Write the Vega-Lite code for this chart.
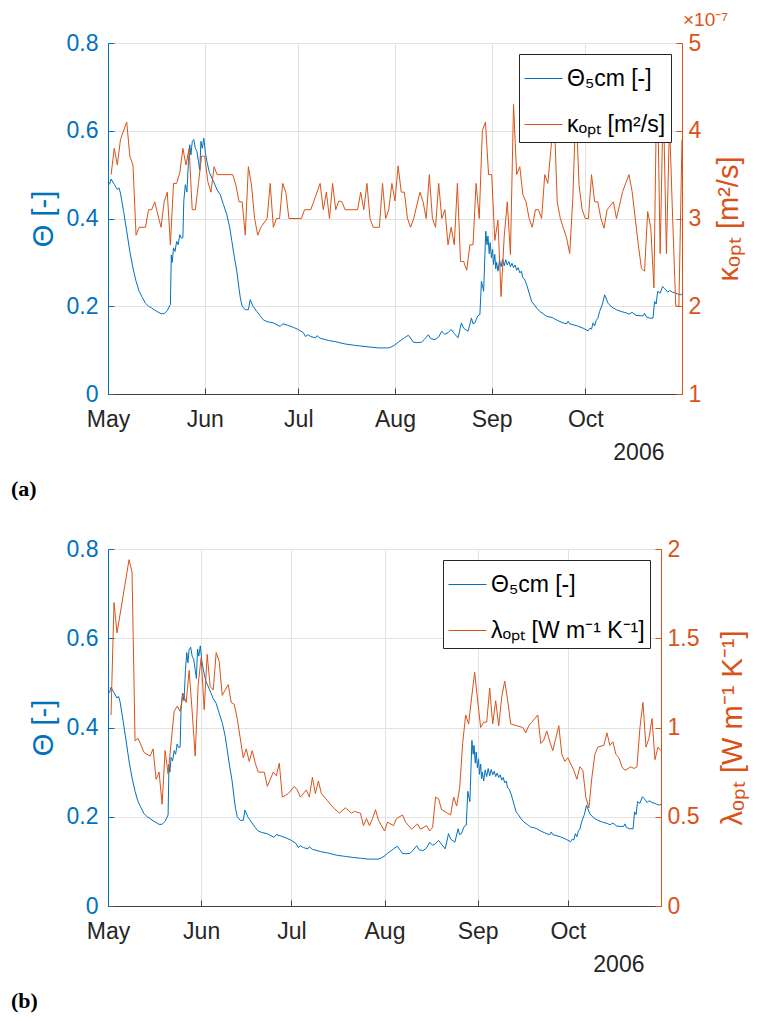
{
  "$schema": "https://vega.github.io/schema/vega-lite/v6.json",
  "padding": {"left": 10, "top": 10, "right": 5, "bottom": 2},
  "spacing": 36,
  "config": {
    "font": "Liberation Sans",
    "view": {"stroke": "#404040", "strokeWidth": 1},
    "axis": {
      "labelFont": "Liberation Sans", "titleFont": "Liberation Sans",
      "labelFontSize": 23, "titleFontSize": 29, "titleFontWeight": "normal",
      "gridColor": "#e2e2e2", "gridWidth": 1, "tickSize": -6, "domainWidth": 1, "labelPadding": 12, "labelFlush": false
    },
    "legend": {
      "orient": "top-right", "offset": 11, "title": null, "symbolType": "stroke", "symbolSize": 1444,
      "symbolStrokeWidth": 1, "labelFont": "Liberation Sans", "labelFontSize": 23, "labelColor": "#000000",
      "strokeColor": "#262626", "fillColor": "#ffffff", "padding": 5, "rowPadding": 14, "labelOffset": 4, "labelLimit": 400
    }
  },
  "datasets": {
    "theta": [
      {"t":"2006/05/01","theta":0.482},{"t":"2006/05/01 12:00","theta":0.478},{"t":"2006/05/02","theta":0.490},{"t":"2006/05/03","theta":0.478},{"t":"2006/05/04","theta":0.466},{"t":"2006/05/04 12:00","theta":0.470},{"t":"2006/05/05","theta":0.458},{"t":"2006/05/06","theta":0.416},{"t":"2006/05/07","theta":0.371},{"t":"2006/05/08","theta":0.325},{"t":"2006/05/09","theta":0.287},{"t":"2006/05/10","theta":0.257},{"t":"2006/05/11","theta":0.234},{"t":"2006/05/12","theta":0.220},{"t":"2006/05/13","theta":0.207},{"t":"2006/05/14","theta":0.200},{"t":"2006/05/15","theta":0.196},{"t":"2006/05/16","theta":0.191},{"t":"2006/05/17","theta":0.187},{"t":"2006/05/18","theta":0.183},{"t":"2006/05/19","theta":0.183},{"t":"2006/05/20","theta":0.190},{"t":"2006/05/21","theta":0.204},{"t":"2006/05/21 07:00","theta":0.317},{"t":"2006/05/21 14:00","theta":0.300},{"t":"2006/05/22","theta":0.333},{"t":"2006/05/22 12:00","theta":0.325},{"t":"2006/05/23","theta":0.348},{"t":"2006/05/23 12:00","theta":0.340},{"t":"2006/05/24","theta":0.363},{"t":"2006/05/24 12:00","theta":0.355},{"t":"2006/05/25","theta":0.356},{"t":"2006/05/25 07:00","theta":0.439},{"t":"2006/05/25 19:00","theta":0.477},{"t":"2006/05/26 07:00","theta":0.460},{"t":"2006/05/26 19:00","theta":0.530},{"t":"2006/05/27 05:00","theta":0.568},{"t":"2006/05/27 14:00","theta":0.545},{"t":"2006/05/28","theta":0.575},{"t":"2006/05/28 12:00","theta":0.580},{"t":"2006/05/29","theta":0.560},{"t":"2006/05/29 12:00","theta":0.553},{"t":"2006/05/30","theta":0.530},{"t":"2006/05/30 10:00","theta":0.510},{"t":"2006/05/30 19:00","theta":0.576},{"t":"2006/05/31 05:00","theta":0.560},{"t":"2006/05/31 17:00","theta":0.583},{"t":"2006/06/01 05:00","theta":0.550},{"t":"2006/06/01 17:00","theta":0.530},{"t":"2006/06/02 12:00","theta":0.505},{"t":"2006/06/03 19:00","theta":0.485},{"t":"2006/06/05","theta":0.465},{"t":"2006/06/06","theta":0.454},{"t":"2006/06/07","theta":0.432},{"t":"2006/06/08 02:00","theta":0.409},{"t":"2006/06/09","theta":0.380},{"t":"2006/06/09 17:00","theta":0.348},{"t":"2006/06/10 12:00","theta":0.312},{"t":"2006/06/11 07:00","theta":0.280},{"t":"2006/06/12","theta":0.240},{"t":"2006/06/12 10:00","theta":0.219},{"t":"2006/06/13","theta":0.200},{"t":"2006/06/14","theta":0.192},{"t":"2006/06/15","theta":0.192},{"t":"2006/06/15 14:00","theta":0.215},{"t":"2006/06/16 12:00","theta":0.200},{"t":"2006/06/17 17:00","theta":0.188},{"t":"2006/06/19","theta":0.176},{"t":"2006/06/19 19:00","theta":0.169},{"t":"2006/06/21","theta":0.165},{"t":"2006/06/23","theta":0.162},{"t":"2006/06/25 05:00","theta":0.154},{"t":"2006/06/26","theta":0.160},{"t":"2006/06/27 12:00","theta":0.157},{"t":"2006/06/29 10:00","theta":0.152},{"t":"2006/07/01","theta":0.147},{"t":"2006/07/02 14:00","theta":0.140},{"t":"2006/07/03 07:00","theta":0.131},{"t":"2006/07/04","theta":0.135},{"t":"2006/07/05","theta":0.131},{"t":"2006/07/06 12:00","theta":0.128},{"t":"2006/07/07","theta":0.133},{"t":"2006/07/08","theta":0.127},{"t":"2006/07/10 17:00","theta":0.122},{"t":"2006/07/13","theta":0.119},{"t":"2006/07/16","theta":0.114},{"t":"2006/07/19","theta":0.111},{"t":"2006/07/21 10:00","theta":0.109},{"t":"2006/07/24","theta":0.107},{"t":"2006/07/26 17:00","theta":0.105},{"t":"2006/07/29 22:00","theta":0.105},{"t":"2006/07/31","theta":0.108},{"t":"2006/08/01","theta":0.112},{"t":"2006/08/02","theta":0.118},{"t":"2006/08/03 05:00","theta":0.124},{"t":"2006/08/04","theta":0.128},{"t":"2006/08/05 07:00","theta":0.134},{"t":"2006/08/06 22:00","theta":0.118},{"t":"2006/08/08","theta":0.117},{"t":"2006/08/09 12:00","theta":0.118},{"t":"2006/08/10 12:00","theta":0.125},{"t":"2006/08/11 17:00","theta":0.135},{"t":"2006/08/12 12:00","theta":0.126},{"t":"2006/08/13 19:00","theta":0.124},{"t":"2006/08/15","theta":0.130},{"t":"2006/08/16","theta":0.143},{"t":"2006/08/17","theta":0.136},{"t":"2006/08/18","theta":0.140},{"t":"2006/08/19","theta":0.147},{"t":"2006/08/20","theta":0.138},{"t":"2006/08/21 05:00","theta":0.128},{"t":"2006/08/22 07:00","theta":0.162},{"t":"2006/08/23","theta":0.150},{"t":"2006/08/24 10:00","theta":0.143},{"t":"2006/08/25 12:00","theta":0.173},{"t":"2006/08/26","theta":0.160},{"t":"2006/08/26 14:00","theta":0.162},{"t":"2006/08/27 12:00","theta":0.178},{"t":"2006/08/28 05:00","theta":0.181},{"t":"2006/08/28 17:00","theta":0.257},{"t":"2006/08/29 10:00","theta":0.234},{"t":"2006/08/30 02:00","theta":0.371},{"t":"2006/08/30 12:00","theta":0.340},{"t":"2006/08/30 19:00","theta":0.360},{"t":"2006/08/31 05:00","theta":0.320},{"t":"2006/08/31 12:00","theta":0.345},{"t":"2006/08/31 22:00","theta":0.310},{"t":"2006/09/01 07:00","theta":0.330},{"t":"2006/09/01 14:00","theta":0.295},{"t":"2006/09/02","theta":0.318},{"t":"2006/09/02 07:00","theta":0.285},{"t":"2006/09/02 14:00","theta":0.300},{"t":"2006/09/03","theta":0.280},{"t":"2006/09/03 12:00","theta":0.305},{"t":"2006/09/04","theta":0.290},{"t":"2006/09/04 12:00","theta":0.308},{"t":"2006/09/05","theta":0.292},{"t":"2006/09/05 12:00","theta":0.306},{"t":"2006/09/06","theta":0.294},{"t":"2006/09/06 12:00","theta":0.302},{"t":"2006/09/07","theta":0.290},{"t":"2006/09/07 12:00","theta":0.298},{"t":"2006/09/08","theta":0.288},{"t":"2006/09/08 12:00","theta":0.294},{"t":"2006/09/09","theta":0.282},{"t":"2006/09/09 12:00","theta":0.288},{"t":"2006/09/10","theta":0.276},{"t":"2006/09/10 12:00","theta":0.280},{"t":"2006/09/11","theta":0.265},{"t":"2006/09/11 12:00","theta":0.262},{"t":"2006/09/12 05:00","theta":0.249},{"t":"2006/09/13","theta":0.230},{"t":"2006/09/13 19:00","theta":0.211},{"t":"2006/09/14 12:00","theta":0.205},{"t":"2006/09/15 12:00","theta":0.195},{"t":"2006/09/16 10:00","theta":0.188},{"t":"2006/09/17 12:00","theta":0.183},{"t":"2006/09/18 14:00","theta":0.177},{"t":"2006/09/20","theta":0.175},{"t":"2006/09/20 17:00","theta":0.173},{"t":"2006/09/22","theta":0.168},{"t":"2006/09/23 22:00","theta":0.162},{"t":"2006/09/25","theta":0.160},{"t":"2006/09/25 12:00","theta":0.166},{"t":"2006/09/26","theta":0.160},{"t":"2006/09/27 02:00","theta":0.158},{"t":"2006/09/28 12:00","theta":0.155},{"t":"2006/09/30 07:00","theta":0.150},{"t":"2006/10/01 22:00","theta":0.144},{"t":"2006/10/02 12:00","theta":0.150},{"t":"2006/10/03","theta":0.148},{"t":"2006/10/03 12:00","theta":0.162},{"t":"2006/10/04","theta":0.155},{"t":"2006/10/04 12:00","theta":0.168},{"t":"2006/10/05","theta":0.172},{"t":"2006/10/05 14:00","theta":0.188},{"t":"2006/10/06 12:00","theta":0.205},{"t":"2006/10/07 05:00","theta":0.226},{"t":"2006/10/08 07:00","theta":0.207},{"t":"2006/10/09 12:00","theta":0.198},{"t":"2006/10/11","theta":0.192},{"t":"2006/10/12 12:00","theta":0.188},{"t":"2006/10/14 02:00","theta":0.185},{"t":"2006/10/15","theta":0.182},{"t":"2006/10/16","theta":0.186},{"t":"2006/10/17 07:00","theta":0.179},{"t":"2006/10/19 12:00","theta":0.178},{"t":"2006/10/20","theta":0.184},{"t":"2006/10/20 12:00","theta":0.176},{"t":"2006/10/21 14:00","theta":0.173},{"t":"2006/10/22 17:00","theta":0.173},{"t":"2006/10/23 05:00","theta":0.211},{"t":"2006/10/23 17:00","theta":0.205},{"t":"2006/10/24 05:00","theta":0.234},{"t":"2006/10/25","theta":0.230},{"t":"2006/10/25 19:00","theta":0.245},{"t":"2006/10/26 12:00","theta":0.240},{"t":"2006/10/27 10:00","theta":0.232},{"t":"2006/10/28","theta":0.236},{"t":"2006/10/29","theta":0.232},{"t":"2006/10/30","theta":0.230},{"t":"2006/10/30 14:00","theta":0.228},{"t":"2006/10/31 12:00","theta":0.226},{"t":"2006/11/01","theta":0.228}
    ],
    "kappa": [
      {"t":"2006/05/02","kappa":3.50},{"t":"2006/05/03","kappa":3.80},{"t":"2006/05/04","kappa":3.61},{"t":"2006/05/05","kappa":3.90},{"t":"2006/05/07","kappa":4.10},{"t":"2006/05/08","kappa":3.71},{"t":"2006/05/09","kappa":3.61},{"t":"2006/05/10","kappa":2.81},{"t":"2006/05/11","kappa":2.90},{"t":"2006/05/13","kappa":2.90},{"t":"2006/05/14","kappa":3.10},{"t":"2006/05/15","kappa":3.10},{"t":"2006/05/16","kappa":3.19},{"t":"2006/05/17","kappa":3.04},{"t":"2006/05/18","kappa":2.90},{"t":"2006/05/19","kappa":3.19},{"t":"2006/05/20","kappa":3.30},{"t":"2006/05/21","kappa":2.70},{"t":"2006/05/22","kappa":3.40},{"t":"2006/05/23","kappa":3.40},{"t":"2006/05/24","kappa":3.52},{"t":"2006/05/25","kappa":3.80},{"t":"2006/05/26","kappa":3.61},{"t":"2006/05/27","kappa":3.80},{"t":"2006/05/28","kappa":3.10},{"t":"2006/05/29","kappa":3.10},{"t":"2006/05/30","kappa":3.40},{"t":"2006/05/31","kappa":3.71},{"t":"2006/06/01","kappa":3.71},{"t":"2006/06/02","kappa":3.42},{"t":"2006/06/03","kappa":3.30},{"t":"2006/06/04","kappa":3.59},{"t":"2006/06/05","kappa":3.50},{"t":"2006/06/10","kappa":3.50},{"t":"2006/06/11","kappa":3.38},{"t":"2006/06/12","kappa":3.19},{"t":"2006/06/13","kappa":3.19},{"t":"2006/06/14","kappa":2.81},{"t":"2006/06/15","kappa":3.59},{"t":"2006/06/16","kappa":3.38},{"t":"2006/06/17","kappa":3.00},{"t":"2006/06/18","kappa":2.81},{"t":"2006/06/19","kappa":2.90},{"t":"2006/06/21","kappa":3.00},{"t":"2006/06/22","kappa":3.40},{"t":"2006/06/23","kappa":2.90},{"t":"2006/06/24","kappa":3.00},{"t":"2006/06/25","kappa":3.00},{"t":"2006/06/26","kappa":3.40},{"t":"2006/06/27","kappa":3.30},{"t":"2006/06/28","kappa":3.00},{"t":"2006/07/02","kappa":3.00},{"t":"2006/07/03","kappa":3.10},{"t":"2006/07/05","kappa":3.10},{"t":"2006/07/08","kappa":3.40},{"t":"2006/07/09","kappa":3.10},{"t":"2006/07/10","kappa":3.30},{"t":"2006/07/11","kappa":3.00},{"t":"2006/07/12","kappa":3.40},{"t":"2006/07/13","kappa":3.10},{"t":"2006/07/14","kappa":3.20},{"t":"2006/07/15","kappa":3.19},{"t":"2006/07/16","kappa":3.10},{"t":"2006/07/20","kappa":3.10},{"t":"2006/07/21","kappa":3.30},{"t":"2006/07/22","kappa":3.10},{"t":"2006/07/23","kappa":3.40},{"t":"2006/07/24","kappa":3.00},{"t":"2006/07/25","kappa":2.90},{"t":"2006/07/27","kappa":2.90},{"t":"2006/07/28","kappa":3.40},{"t":"2006/07/29","kappa":3.00},{"t":"2006/07/30","kappa":3.10},{"t":"2006/07/31","kappa":3.40},{"t":"2006/08/01","kappa":3.20},{"t":"2006/08/02","kappa":3.60},{"t":"2006/08/03","kappa":3.30},{"t":"2006/08/04","kappa":3.30},{"t":"2006/08/05","kappa":3.00},{"t":"2006/08/06","kappa":2.90},{"t":"2006/08/07","kappa":3.00},{"t":"2006/08/09","kappa":3.30},{"t":"2006/08/10","kappa":3.19},{"t":"2006/08/11","kappa":3.00},{"t":"2006/08/12","kappa":3.50},{"t":"2006/08/13","kappa":3.00},{"t":"2006/08/14","kappa":2.90},{"t":"2006/08/15","kappa":3.40},{"t":"2006/08/16","kappa":3.00},{"t":"2006/08/17","kappa":3.10},{"t":"2006/08/18","kappa":2.70},{"t":"2006/08/19","kappa":2.90},{"t":"2006/08/20","kappa":2.70},{"t":"2006/08/21","kappa":3.40},{"t":"2006/08/22","kappa":2.51},{"t":"2006/08/23","kappa":2.51},{"t":"2006/08/24","kappa":2.41},{"t":"2006/08/25","kappa":2.70},{"t":"2006/08/26","kappa":2.70},{"t":"2006/08/27","kappa":3.40},{"t":"2006/08/28","kappa":3.00},{"t":"2006/08/29","kappa":4.00},{"t":"2006/08/30","kappa":4.10},{"t":"2006/08/31","kappa":3.50},{"t":"2006/09/01","kappa":3.50},{"t":"2006/09/02","kappa":2.75},{"t":"2006/09/03","kappa":2.98},{"t":"2006/09/04","kappa":2.11},{"t":"2006/09/05","kappa":2.79},{"t":"2006/09/06","kappa":3.19},{"t":"2006/09/07","kappa":2.59},{"t":"2006/09/08","kappa":4.30},{"t":"2006/09/09","kappa":3.50},{"t":"2006/09/10","kappa":3.59},{"t":"2006/09/11","kappa":3.27},{"t":"2006/09/12","kappa":3.19},{"t":"2006/09/13","kappa":3.00},{"t":"2006/09/14","kappa":2.90},{"t":"2006/09/15","kappa":3.10},{"t":"2006/09/16","kappa":3.10},{"t":"2006/09/17","kappa":3.00},{"t":"2006/09/18","kappa":3.50},{"t":"2006/09/19","kappa":3.40},{"t":"2006/09/20","kappa":3.80},{"t":"2006/09/21","kappa":4.20},{"t":"2006/09/22","kappa":3.19},{"t":"2006/09/23","kappa":3.00},{"t":"2006/09/24","kappa":2.89},{"t":"2006/09/25","kappa":2.78},{"t":"2006/09/26","kappa":2.60},{"t":"2006/09/27","kappa":3.23},{"t":"2006/09/28","kappa":4.30},{"t":"2006/09/29","kappa":3.38},{"t":"2006/09/30","kappa":3.10},{"t":"2006/10/01","kappa":3.00},{"t":"2006/10/02","kappa":3.00},{"t":"2006/10/03","kappa":3.50},{"t":"2006/10/04","kappa":3.19},{"t":"2006/10/05","kappa":3.19},{"t":"2006/10/06","kappa":3.00},{"t":"2006/10/07","kappa":2.89},{"t":"2006/10/08","kappa":3.10},{"t":"2006/10/10","kappa":3.19},{"t":"2006/10/11","kappa":3.00},{"t":"2006/10/13","kappa":3.31},{"t":"2006/10/15","kappa":3.50},{"t":"2006/10/16","kappa":3.31},{"t":"2006/10/18","kappa":2.70},{"t":"2006/10/19","kappa":2.43},{"t":"2006/10/20","kappa":2.40},{"t":"2006/10/21","kappa":3.08},{"t":"2006/10/22","kappa":2.89},{"t":"2006/10/23","kappa":2.21},{"t":"2006/10/24","kappa":4.80},{"t":"2006/10/25","kappa":2.60},{"t":"2006/10/26","kappa":4.40},{"t":"2006/10/27","kappa":2.60},{"t":"2006/10/28","kappa":4.10},{"t":"2006/10/29","kappa":3.00},{"t":"2006/10/30","kappa":2.00},{"t":"2006/10/31","kappa":2.00},{"t":"2006/11/01","kappa":3.90}
    ],
    "lambda": [
      {"t":"2006/05/02","lambda":1.07},{"t":"2006/05/03","lambda":1.70},{"t":"2006/05/04","lambda":1.53},{"t":"2006/05/08","lambda":1.94},{"t":"2006/05/09","lambda":1.87},{"t":"2006/05/10","lambda":0.925},{"t":"2006/05/11","lambda":0.94},{"t":"2006/05/13","lambda":0.86},{"t":"2006/05/15","lambda":0.84},{"t":"2006/05/16","lambda":0.88},{"t":"2006/05/17","lambda":0.71},{"t":"2006/05/18","lambda":0.75},{"t":"2006/05/19","lambda":0.57},{"t":"2006/05/20","lambda":0.87},{"t":"2006/05/21","lambda":0.74},{"t":"2006/05/23","lambda":1.09},{"t":"2006/05/24","lambda":1.12},{"t":"2006/05/25","lambda":1.09},{"t":"2006/05/26","lambda":1.19},{"t":"2006/05/27","lambda":1.14},{"t":"2006/05/28","lambda":1.32},{"t":"2006/05/29","lambda":1.09},{"t":"2006/05/30","lambda":0.84},{"t":"2006/05/31","lambda":1.24},{"t":"2006/06/01","lambda":1.39},{"t":"2006/06/02","lambda":1.10},{"t":"2006/06/03","lambda":1.41},{"t":"2006/06/04","lambda":1.23},{"t":"2006/06/05","lambda":1.21},{"t":"2006/06/06","lambda":1.42},{"t":"2006/06/07","lambda":1.37},{"t":"2006/06/08","lambda":1.18},{"t":"2006/06/10","lambda":1.24},{"t":"2006/06/11","lambda":1.14},{"t":"2006/06/12","lambda":1.13},{"t":"2006/06/13","lambda":1.05},{"t":"2006/06/15","lambda":0.83},{"t":"2006/06/16","lambda":0.88},{"t":"2006/06/17","lambda":0.81},{"t":"2006/06/18","lambda":0.87},{"t":"2006/06/19","lambda":0.80},{"t":"2006/06/20","lambda":0.75},{"t":"2006/06/22","lambda":0.75},{"t":"2006/06/23","lambda":0.67},{"t":"2006/06/25","lambda":0.75},{"t":"2006/06/26","lambda":0.73},{"t":"2006/06/27","lambda":0.80},{"t":"2006/06/28","lambda":0.61},{"t":"2006/06/30","lambda":0.63},{"t":"2006/07/02","lambda":0.67},{"t":"2006/07/03","lambda":0.65},{"t":"2006/07/04","lambda":0.61},{"t":"2006/07/06","lambda":0.65},{"t":"2006/07/07","lambda":0.61},{"t":"2006/07/08","lambda":0.72},{"t":"2006/07/09","lambda":0.63},{"t":"2006/07/10","lambda":0.70},{"t":"2006/07/11","lambda":0.63},{"t":"2006/07/13","lambda":0.59},{"t":"2006/07/15","lambda":0.55},{"t":"2006/07/17","lambda":0.52},{"t":"2006/07/19","lambda":0.55},{"t":"2006/07/21","lambda":0.52},{"t":"2006/07/22","lambda":0.53},{"t":"2006/07/24","lambda":0.52},{"t":"2006/07/25","lambda":0.45},{"t":"2006/07/26","lambda":0.49},{"t":"2006/07/27","lambda":0.45},{"t":"2006/07/28","lambda":0.49},{"t":"2006/07/29","lambda":0.54},{"t":"2006/07/30","lambda":0.48},{"t":"2006/08/01","lambda":0.42},{"t":"2006/08/02","lambda":0.47},{"t":"2006/08/04","lambda":0.45},{"t":"2006/08/05","lambda":0.49},{"t":"2006/08/07","lambda":0.51},{"t":"2006/08/08","lambda":0.47},{"t":"2006/08/10","lambda":0.43},{"t":"2006/08/12","lambda":0.46},{"t":"2006/08/13","lambda":0.43},{"t":"2006/08/15","lambda":0.45},{"t":"2006/08/16","lambda":0.42},{"t":"2006/08/17","lambda":0.44},{"t":"2006/08/18","lambda":0.61},{"t":"2006/08/19","lambda":0.60},{"t":"2006/08/20","lambda":0.54},{"t":"2006/08/22","lambda":0.52},{"t":"2006/08/23","lambda":0.51},{"t":"2006/08/24","lambda":0.61},{"t":"2006/08/25","lambda":0.56},{"t":"2006/08/26","lambda":0.66},{"t":"2006/08/27","lambda":0.91},{"t":"2006/08/28","lambda":1.07},{"t":"2006/08/29","lambda":1.02},{"t":"2006/08/30","lambda":1.17},{"t":"2006/08/31","lambda":1.31},{"t":"2006/09/01","lambda":1.15},{"t":"2006/09/02","lambda":1.00},{"t":"2006/09/03","lambda":1.03},{"t":"2006/09/04","lambda":1.03},{"t":"2006/09/05","lambda":1.22},{"t":"2006/09/06","lambda":1.02},{"t":"2006/09/07","lambda":1.15},{"t":"2006/09/08","lambda":1.01},{"t":"2006/09/09","lambda":1.17},{"t":"2006/09/10","lambda":1.26},{"t":"2006/09/11","lambda":1.15},{"t":"2006/09/12","lambda":1.02},{"t":"2006/09/14","lambda":1.01},{"t":"2006/09/16","lambda":1.00},{"t":"2006/09/17","lambda":0.97},{"t":"2006/09/18","lambda":1.01},{"t":"2006/09/19","lambda":1.03},{"t":"2006/09/21","lambda":1.07},{"t":"2006/09/22","lambda":0.91},{"t":"2006/09/23","lambda":0.93},{"t":"2006/09/24","lambda":0.98},{"t":"2006/09/25","lambda":0.92},{"t":"2006/09/26","lambda":0.87},{"t":"2006/09/27","lambda":0.94},{"t":"2006/09/28","lambda":1.01},{"t":"2006/09/29","lambda":0.85},{"t":"2006/09/30","lambda":0.81},{"t":"2006/10/01","lambda":0.83},{"t":"2006/10/03","lambda":0.76},{"t":"2006/10/04","lambda":0.71},{"t":"2006/10/05","lambda":0.78},{"t":"2006/10/06","lambda":0.76},{"t":"2006/10/07","lambda":0.61},{"t":"2006/10/08","lambda":0.55},{"t":"2006/10/09","lambda":0.72},{"t":"2006/10/10","lambda":0.85},{"t":"2006/10/11","lambda":0.89},{"t":"2006/10/13","lambda":0.90},{"t":"2006/10/14","lambda":0.97},{"t":"2006/10/15","lambda":0.90},{"t":"2006/10/16","lambda":0.92},{"t":"2006/10/17","lambda":0.85},{"t":"2006/10/18","lambda":0.83},{"t":"2006/10/19","lambda":0.78},{"t":"2006/10/20","lambda":0.76},{"t":"2006/10/22","lambda":0.78},{"t":"2006/10/23","lambda":0.77},{"t":"2006/10/24","lambda":0.78},{"t":"2006/10/25","lambda":1.00},{"t":"2006/10/26","lambda":1.14},{"t":"2006/10/27","lambda":0.89},{"t":"2006/10/28","lambda":0.94},{"t":"2006/10/29","lambda":1.05},{"t":"2006/10/30","lambda":0.82},{"t":"2006/10/31","lambda":0.89},{"t":"2006/11/01","lambda":0.87}
    ]
  },
  "resolve": {"scale": {"color": "independent"}, "legend": {"color": "independent"}},
  "vconcat": [
    {
      "width": 574,
      "height": 351,
      "title": {"text": "(a)", "orient": "bottom", "anchor": "start", "font": "Liberation Serif", "fontWeight": "bold", "fontSize": 22, "color": "#000000", "dx": -18, "offset": 15},
      "encoding": {
        "x": {
          "field": "t", "type": "temporal",
          "scale": {"domain": [{"year": 2006, "month": 5, "date": 1}, {"year": 2006, "month": 11, "date": 1}]},
          "axis": {
            "values": [{"year": 2006, "month": 5, "date": 1}, {"year": 2006, "month": 6, "date": 1}, {"year": 2006, "month": 7, "date": 1}, {"year": 2006, "month": 8, "date": 1}, {"year": 2006, "month": 9, "date": 1}, {"year": 2006, "month": 10, "date": 1}],
            "format": "%b", "labelColor": "#262626", "domainColor": "#404040", "tickColor": "#404040", "labelPadding": 20,
            "title": "2006", "titleColor": "#262626", "titleFontSize": 23, "titleAlign": "right", "titleX": 556, "titlePadding": 10, "grid": true
          }
        }
      },
      "layer": [
        {
          "data": {"name": "theta"},
          "transform": [{"calculate": "'Θ₅cm [-]'", "as": "series"}],
          "mark": {"type": "line", "strokeWidth": 1, "interpolate": "linear"},
          "encoding": {
            "y": {"field": "theta", "type": "quantitative", "scale": {"domain": [0, 0.8]},
              "axis": {"orient": "left", "values": [0, 0.2, 0.4, 0.6, 0.8], "format": "~g", "title": "Θ [-]", "labelColor": "#0072BD", "titleColor": "#0072BD", "domainColor": "#0072BD", "tickColor": "#0072BD", "grid": true, "labelPadding": 16, "titlePadding": 8}},
            "color": {"field": "series", "type": "nominal", "scale": {"domain": ["Θ₅cm [-]", "κₒₚₜ [m²/s]"], "range": ["#0072BD", "#D95319"]}}
          }
        },
        {
          "data": {"name": "kappa"},
          "transform": [{"calculate": "'κₒₚₜ [m²/s]'", "as": "series"}],
          "mark": {"type": "line", "strokeWidth": 1},
          "encoding": {
            "y": {"field": "kappa", "type": "quantitative", "scale": {"domain": [1, 5]},
              "axis": {"orient": "right", "values": [1, 2, 3, 4, 5], "format": "d", "title": "κₒₚₜ [m²/s]", "titleAngle": 270, "titleBaseline": "top", "labelColor": "#D95319", "titleColor": "#D95319", "domainColor": "#D95319", "tickColor": "#D95319", "grid": false, "labelPadding": 12, "titlePadding": 14}},
            "color": {"field": "series", "type": "nominal"}
          }
        },
        {
          "data": {"values": [{"t": "2006/11/01", "k": 5}]},
          "mark": {"type": "text", "align": "left", "baseline": "bottom", "dx": 1, "dy": -13, "fontSize": 19, "fill": "#D95319", "font": "Liberation Sans", "text": "×10⁻⁷"},
          "encoding": {
            "y": {"field": "k", "type": "quantitative", "scale": {"domain": [1, 5]}, "axis": null}
          }
        }
      ],
      "resolve": {"scale": {"y": "independent"}}
    },
    {
      "width": 553,
      "height": 357,
      "title": {"text": "(b)", "orient": "bottom", "anchor": "start", "font": "Liberation Serif", "fontWeight": "bold", "fontSize": 22, "color": "#000000", "dx": -18, "offset": 15},
      "encoding": {
        "x": {
          "field": "t", "type": "temporal",
          "scale": {"domain": [{"year": 2006, "month": 5, "date": 1}, {"year": 2006, "month": 11, "date": 1}]},
          "axis": {
            "values": [{"year": 2006, "month": 5, "date": 1}, {"year": 2006, "month": 6, "date": 1}, {"year": 2006, "month": 7, "date": 1}, {"year": 2006, "month": 8, "date": 1}, {"year": 2006, "month": 9, "date": 1}, {"year": 2006, "month": 10, "date": 1}],
            "format": "%b", "labelColor": "#262626", "domainColor": "#404040", "tickColor": "#404040", "labelPadding": 20,
            "title": "2006", "titleColor": "#262626", "titleFontSize": 23, "titleAlign": "right", "titleX": 536, "titlePadding": 10, "grid": true
          }
        }
      },
      "layer": [
        {
          "data": {"name": "theta"},
          "transform": [{"calculate": "'Θ₅cm [-]'", "as": "series"}],
          "mark": {"type": "line", "strokeWidth": 1, "interpolate": "linear"},
          "encoding": {
            "y": {"field": "theta", "type": "quantitative", "scale": {"domain": [0, 0.8]},
              "axis": {"orient": "left", "values": [0, 0.2, 0.4, 0.6, 0.8], "format": "~g", "title": "Θ [-]", "labelColor": "#0072BD", "titleColor": "#0072BD", "domainColor": "#0072BD", "tickColor": "#0072BD", "grid": true, "labelPadding": 16, "titlePadding": 8}},
            "color": {"field": "series", "type": "nominal", "scale": {"domain": ["Θ₅cm [-]", "λₒₚₜ [W m⁻¹ K⁻¹]"], "range": ["#0072BD", "#D95319"]}}
          }
        },
        {
          "data": {"name": "lambda"},
          "transform": [{"calculate": "'λₒₚₜ [W m⁻¹ K⁻¹]'", "as": "series"}],
          "mark": {"type": "line", "strokeWidth": 1},
          "encoding": {
            "y": {"field": "lambda", "type": "quantitative", "scale": {"domain": [0, 2]},
              "axis": {"orient": "right", "values": [0, 0.5, 1, 1.5, 2], "format": "~g", "title": "λₒₚₜ [W m⁻¹ K⁻¹]", "titleAngle": 270, "titleBaseline": "top", "labelColor": "#D95319", "titleColor": "#D95319", "domainColor": "#D95319", "tickColor": "#D95319", "grid": false, "labelPadding": 12, "titlePadding": 20}},
            "color": {"field": "series", "type": "nominal"}
          }
        }
      ],
      "resolve": {"scale": {"y": "independent"}}
    }
  ]
}
